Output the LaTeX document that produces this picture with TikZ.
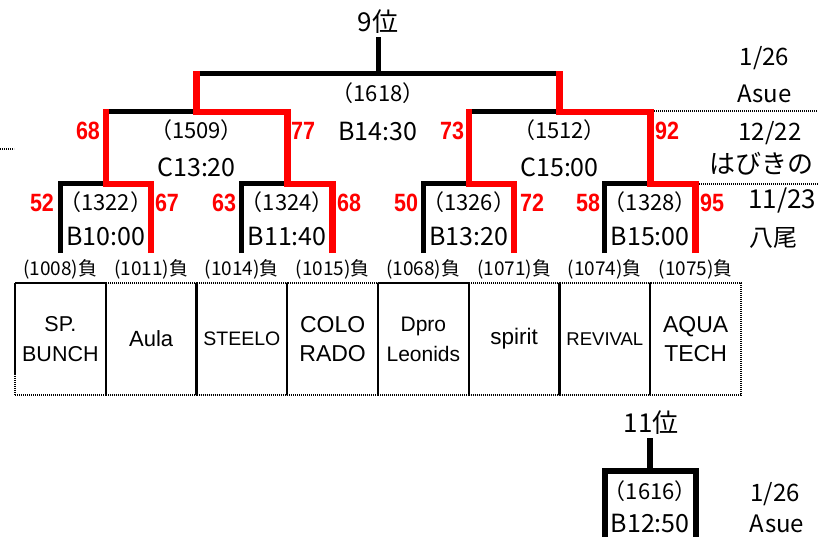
\documentclass[tikz,border=0pt]{standalone}
\usepackage{fontspec}
\setmainfont{Liberation Sans}
\newfontfamily\jp{Noto Sans CJK JP}
\newfontfamily\scorefont{Liberation Sans}[FakeStretch=0.86]
\newcommand{\fsz}[1]{\fontsize{#1}{#1}\selectfont}

\tikzset{
	blk/.style={line width=5pt},
	win/.style={line width=6.5pt, red},
	dots/.style={line width=2.2pt, dash pattern=on 1.2pt off 0.8pt},
	team/.style={draw, dots, minimum width=90.75pt, minimum height=112pt, inner sep=0pt, align=center},
	num/.style={font=\jp\fsz{22}, text height=16pt, text depth=0pt, inner sep=0pt},
	tm/.style={font=\jp\fsz{25}, text height=18.3pt, text depth=0pt, inner sep=0pt},
	score/.style={font=\scorefont\bfseries\fsz{25}, text=red, text height=17.9pt, text depth=0pt, inner sep=0pt},
	lose/.style={font=\jp\fsz{19}, text height=14pt, text depth=0pt, inner sep=0pt},
	info/.style={font=\jp\fsz{24}, text height=17.6pt, text depth=0pt, inner sep=0pt},
	rank/.style={font=\jp\fsz{26}, text height=19pt, text depth=0pt, inner sep=0pt},
}

\begin{document}
\begin{tikzpicture}[x=1pt,y=-1pt]
	\useasboundingbox (0,0) rectangle (818,537);
	% feet of the bracket, one per team
	\foreach \i in {1,...,8} \coordinate (f\i) at ({15+90.75*(\i-0.5)},253);
	\coordinate (m1) at (105.75,184);
	\coordinate (m2) at (287.25,184);
	\coordinate (m3) at (468.75,184);
	\coordinate (m4) at (650.25,184);
	\coordinate (s1) at (196.5,112);
	\coordinate (s2) at (559.5,112);
	\coordinate (fin) at (378,74);
	\coordinate (top) at (378,37);

	% lines of the losing side
	\draw[blk] (f1) |- (m1);
	\draw[blk] (f3) |- (m2);
	\draw[blk] (f5) |- (m3);
	\draw[blk] (f7) |- (m4);
	\draw[blk] (m1 |- s1) -- (s1);
	\draw[blk] (m3 |- s2) -- (s2);
	\draw[blk] (s1 |- fin) -- (s2 |- fin);
	\draw[blk] (fin) -- (top);
	% winners in red
	\draw[win, shorten >=-2.5pt] (f2) |- (m1) -- (m1 |- s1);
	\draw[win, shorten >=-2.5pt] (f4) |- (m2) |- (s1) -- (s1 |- fin);
	\draw[win, shorten >=-2.5pt] (f6) |- (m3) -- (m3 |- s2);
	\draw[win, shorten >=-2.5pt] (f8) |- (m4) |- (s2) -- (s2 |- fin);

	\node[rank] (r9) at (378,22) {9位};
	\node[num] (n1618) at (378,94) {（1618）};
	\node[tm] (c1618) at (378,131) {B14:30};
	\node[num] (n1509) at (196.5,131) {（1509）};
	\node[tm] (c1509) at (196.5,167) {C13:20};
	\node[num] (n1512) at (559.5,131) {（1512）};
	\node[tm] (c1512) at (559.5,167) {C15:00};
	\node[score] (p1509a) at (88,131) {68};
	\node[score] (p1509b) at (303,131) {77};
	\node[score] (p1512a) at (452,131) {73};
	\node[score] (p1512b) at (667,131) {92};

	\node[num] (n1322) at (105.75,202.5) {（1322）};
	\node[tm] (c1322) at (105.75,236) {B10:00};
	\node[num] (n1324) at (287.25,202.5) {（1324）};
	\node[tm] (c1324) at (287.25,236) {B11:40};
	\node[num] (n1326) at (468.75,202.5) {（1326）};
	\node[tm] (c1326) at (468.75,236) {B13:20};
	\node[num] (n1328) at (650.25,202.5) {（1328）};
	\node[tm] (c1328) at (650.25,236) {B15:00};
	\node[score] (p1322a) at (42,202.5) {52};
	\node[score] (p1322b) at (167,202.5) {67};
	\node[score] (p1324a) at (224,202.5) {63};
	\node[score] (p1324b) at (349,202.5) {68};
	\node[score] (p1326a) at (406,202.5) {50};
	\node[score] (p1326b) at (532,202.5) {72};
	\node[score] (p1328a) at (588,202.5) {58};
	\node[score] (p1328b) at (712,202.5) {95};

	% first round losers
	\foreach \i/\n in {1/1008,2/1011,3/1014,4/1015,5/1068,6/1071,7/1074,8/1075}
		\node[lose] (l\i) at ([yshift=-15pt]f\i) {(\n)負};

	\node[team, font=\fontsize{21.5}{30}\selectfont] (t1) at (60.375,339) {SP.\\BUNCH};
	\node[team, font=\fsz{22}] (t2) at (151.125,339) {Aula};
	\node[team, font=\fsz{19.5}] (t3) at (241.875,339) {STEELO};
	\node[team, font=\fontsize{23}{29.5}\selectfont] (t4) at (332.625,339) {COLO\\RADO};
	\node[team, font=\fontsize{21}{30}\selectfont] (t5) at (423.375,339) {Dpro\\Leonids};
	\node[team, font=\fsz{22.5}] (t6) at (514.125,339) {spirit};
	\node[team, font=\fsz{18.5}] (t7) at (604.875,339) {REVIVAL};
	\node[team, font=\fontsize{23}{29.5}\selectfont] (t8) at (695.625,339) {AQUA\\TECH};

	% dates and venues
	\draw[dots] (654,111) -- (818,111);
	\draw[dots] (699,184) -- (818,184);
	\draw[dots] (0,149) -- (14,149);
	\node[info] (d1) at (764.5,56.5) {1/26};
	\node[info] (v1) at (764.5,93.5) {Asue};
	\node[info] (d2) at (770,131.5) {12/22};
	\node[info, font=\jp\fsz{26}] (v2) at (761.5,165) {はびきの};
	\node[info, anchor=west, font=\jp\fsz{26}] (d3) at (748,200) {11/23};
	\node[info] (v3) at (773.5,237.5) {八尾};

	% 11th place match
	\coordinate (b) at (650.25,471);
	\coordinate (btop) at (650.25,438);
	\coordinate (b1) at (604.875,540);
	\coordinate (b2) at (695.625,540);
	\draw[blk, line width=6pt] (b1) |- (b) -| (b2);
	\draw[blk, line width=6pt] (b) -- (btop);
	\node[rank] (r11) at (651,422.5) {11位};
	\node[num] (n1616) at (650.25,491) {（1616）};
	\node[tm] (c1616) at (650.25,523) {B12:50};
	\node[info] (d4) at (775,493) {1/26};
	\node[info] (v4) at (777,524) {Asue};
\end{tikzpicture}
\end{document}
